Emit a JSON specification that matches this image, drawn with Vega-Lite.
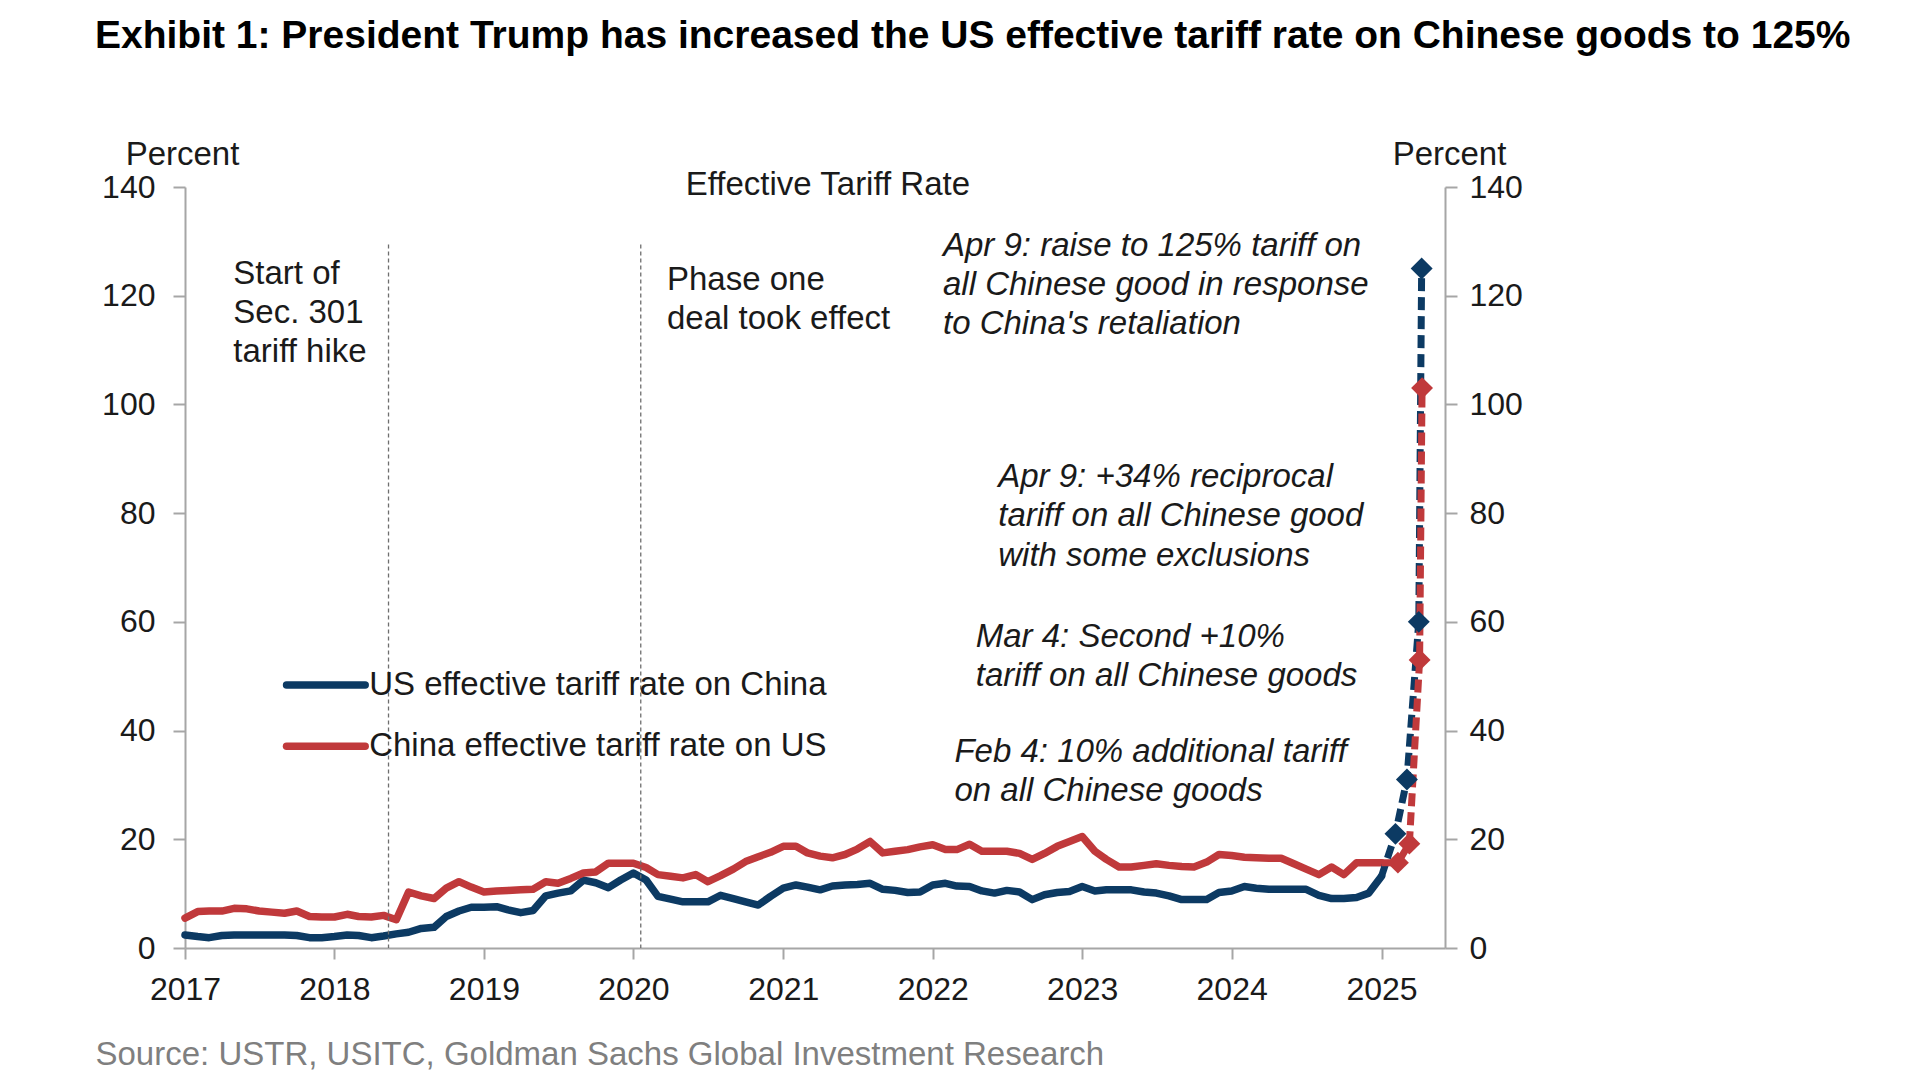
{
  "$schema": "https://vega.github.io/schema/vega-lite/v6.json",
  "width": 1260,
  "height": 761,
  "autosize": {"type": "none"},
  "padding": {"left": 185, "top": 187, "right": 475, "bottom": 132},
  "background": "white",
  "title": {
    "text": "Exhibit 1: President Trump has increased the US effective tariff rate on Chinese goods to 125%",
    "anchor": "start",
    "frame": "group",
    "dx": -90,
    "offset": 82,
    "font": "Liberation Sans",
    "fontSize": 39,
    "fontWeight": "bold",
    "color": "#000000"
  },
  "datasets": {
    "tariffs": [
      {"date": "2017-01-01", "series": "US", "value": 2.4}, {"date": "2017-02-01", "series": "US", "value": 2.1}, {"date": "2017-03-01", "series": "US", "value": 1.9}, {"date": "2017-04-01", "series": "US", "value": 2.3}, {"date": "2017-05-01", "series": "US", "value": 2.4}, {"date": "2017-06-01", "series": "US", "value": 2.4}, {"date": "2017-07-01", "series": "US", "value": 2.4}, {"date": "2017-08-01", "series": "US", "value": 2.4}, {"date": "2017-09-01", "series": "US", "value": 2.4}, {"date": "2017-10-01", "series": "US", "value": 2.3}, {"date": "2017-11-01", "series": "US", "value": 1.9}, {"date": "2017-12-01", "series": "US", "value": 1.9},
      {"date": "2018-01-01", "series": "US", "value": 2.1}, {"date": "2018-02-01", "series": "US", "value": 2.4}, {"date": "2018-03-01", "series": "US", "value": 2.3}, {"date": "2018-04-01", "series": "US", "value": 1.9}, {"date": "2018-05-01", "series": "US", "value": 2.2}, {"date": "2018-06-01", "series": "US", "value": 2.6}, {"date": "2018-07-01", "series": "US", "value": 2.9}, {"date": "2018-08-01", "series": "US", "value": 3.6}, {"date": "2018-09-01", "series": "US", "value": 3.8}, {"date": "2018-10-01", "series": "US", "value": 5.8}, {"date": "2018-11-01", "series": "US", "value": 6.8}, {"date": "2018-12-01", "series": "US", "value": 7.5},
      {"date": "2019-01-01", "series": "US", "value": 7.5}, {"date": "2019-02-01", "series": "US", "value": 7.6}, {"date": "2019-03-01", "series": "US", "value": 7.0}, {"date": "2019-04-01", "series": "US", "value": 6.5}, {"date": "2019-05-01", "series": "US", "value": 6.9}, {"date": "2019-06-01", "series": "US", "value": 9.6}, {"date": "2019-07-01", "series": "US", "value": 10.1}, {"date": "2019-08-01", "series": "US", "value": 10.5}, {"date": "2019-09-01", "series": "US", "value": 12.5}, {"date": "2019-10-01", "series": "US", "value": 12.0}, {"date": "2019-11-01", "series": "US", "value": 11.1}, {"date": "2019-12-01", "series": "US", "value": 12.5},
      {"date": "2020-01-01", "series": "US", "value": 13.8}, {"date": "2020-02-01", "series": "US", "value": 12.5}, {"date": "2020-03-01", "series": "US", "value": 9.5}, {"date": "2020-04-01", "series": "US", "value": 9.0}, {"date": "2020-05-01", "series": "US", "value": 8.5}, {"date": "2020-06-01", "series": "US", "value": 8.5}, {"date": "2020-07-01", "series": "US", "value": 8.5}, {"date": "2020-08-01", "series": "US", "value": 9.7}, {"date": "2020-09-01", "series": "US", "value": 9.1}, {"date": "2020-10-01", "series": "US", "value": 8.5}, {"date": "2020-11-01", "series": "US", "value": 7.9}, {"date": "2020-12-01", "series": "US", "value": 9.5},
      {"date": "2021-01-01", "series": "US", "value": 11.0}, {"date": "2021-02-01", "series": "US", "value": 11.6}, {"date": "2021-03-01", "series": "US", "value": 11.2}, {"date": "2021-04-01", "series": "US", "value": 10.7}, {"date": "2021-05-01", "series": "US", "value": 11.4}, {"date": "2021-06-01", "series": "US", "value": 11.6}, {"date": "2021-07-01", "series": "US", "value": 11.7}, {"date": "2021-08-01", "series": "US", "value": 11.9}, {"date": "2021-09-01", "series": "US", "value": 10.8}, {"date": "2021-10-01", "series": "US", "value": 10.6}, {"date": "2021-11-01", "series": "US", "value": 10.2}, {"date": "2021-12-01", "series": "US", "value": 10.3},
      {"date": "2022-01-01", "series": "US", "value": 11.6}, {"date": "2022-02-01", "series": "US", "value": 11.9}, {"date": "2022-03-01", "series": "US", "value": 11.4}, {"date": "2022-04-01", "series": "US", "value": 11.3}, {"date": "2022-05-01", "series": "US", "value": 10.5}, {"date": "2022-06-01", "series": "US", "value": 10.1}, {"date": "2022-07-01", "series": "US", "value": 10.6}, {"date": "2022-08-01", "series": "US", "value": 10.3}, {"date": "2022-09-01", "series": "US", "value": 8.9}, {"date": "2022-10-01", "series": "US", "value": 9.8}, {"date": "2022-11-01", "series": "US", "value": 10.2}, {"date": "2022-12-01", "series": "US", "value": 10.4},
      {"date": "2023-01-01", "series": "US", "value": 11.3}, {"date": "2023-02-01", "series": "US", "value": 10.5}, {"date": "2023-03-01", "series": "US", "value": 10.7}, {"date": "2023-04-01", "series": "US", "value": 10.7}, {"date": "2023-05-01", "series": "US", "value": 10.7}, {"date": "2023-06-01", "series": "US", "value": 10.3}, {"date": "2023-07-01", "series": "US", "value": 10.1}, {"date": "2023-08-01", "series": "US", "value": 9.6}, {"date": "2023-09-01", "series": "US", "value": 8.9}, {"date": "2023-10-01", "series": "US", "value": 8.9}, {"date": "2023-11-01", "series": "US", "value": 8.9}, {"date": "2023-12-01", "series": "US", "value": 10.2},
      {"date": "2024-01-01", "series": "US", "value": 10.5}, {"date": "2024-02-01", "series": "US", "value": 11.3}, {"date": "2024-03-01", "series": "US", "value": 11.0}, {"date": "2024-04-01", "series": "US", "value": 10.8}, {"date": "2024-05-01", "series": "US", "value": 10.8}, {"date": "2024-06-01", "series": "US", "value": 10.8}, {"date": "2024-07-01", "series": "US", "value": 10.8}, {"date": "2024-08-01", "series": "US", "value": 9.7}, {"date": "2024-09-01", "series": "US", "value": 9.1}, {"date": "2024-10-01", "series": "US", "value": 9.1}, {"date": "2024-11-01", "series": "US", "value": 9.3}, {"date": "2024-12-01", "series": "US", "value": 10.1},
      {"date": "2025-01-01", "series": "US", "value": 13.2},
      {"date": "2025-02-04", "series": "US", "value": 21.0}, {"date": "2025-03-04", "series": "US", "value": 31.0}, {"date": "2025-04-02", "series": "US", "value": 60.0}, {"date": "2025-04-09", "series": "US", "value": 125.0},
      {"date": "2017-01-01", "series": "China", "value": 5.5}, {"date": "2017-02-01", "series": "China", "value": 6.7}, {"date": "2017-03-01", "series": "China", "value": 6.8}, {"date": "2017-04-01", "series": "China", "value": 6.8}, {"date": "2017-05-01", "series": "China", "value": 7.3}, {"date": "2017-06-01", "series": "China", "value": 7.2}, {"date": "2017-07-01", "series": "China", "value": 6.8}, {"date": "2017-08-01", "series": "China", "value": 6.6}, {"date": "2017-09-01", "series": "China", "value": 6.4}, {"date": "2017-10-01", "series": "China", "value": 6.8}, {"date": "2017-11-01", "series": "China", "value": 5.8}, {"date": "2017-12-01", "series": "China", "value": 5.7},
      {"date": "2018-01-01", "series": "China", "value": 5.7}, {"date": "2018-02-01", "series": "China", "value": 6.2}, {"date": "2018-03-01", "series": "China", "value": 5.8}, {"date": "2018-04-01", "series": "China", "value": 5.7}, {"date": "2018-05-01", "series": "China", "value": 6.0}, {"date": "2018-06-01", "series": "China", "value": 5.2}, {"date": "2018-07-01", "series": "China", "value": 10.3}, {"date": "2018-08-01", "series": "China", "value": 9.6}, {"date": "2018-09-01", "series": "China", "value": 9.1}, {"date": "2018-10-01", "series": "China", "value": 11.0}, {"date": "2018-11-01", "series": "China", "value": 12.2}, {"date": "2018-12-01", "series": "China", "value": 11.2},
      {"date": "2019-01-01", "series": "China", "value": 10.3}, {"date": "2019-02-01", "series": "China", "value": 10.5}, {"date": "2019-03-01", "series": "China", "value": 10.6}, {"date": "2019-04-01", "series": "China", "value": 10.7}, {"date": "2019-05-01", "series": "China", "value": 10.8}, {"date": "2019-06-01", "series": "China", "value": 12.2}, {"date": "2019-07-01", "series": "China", "value": 11.9}, {"date": "2019-08-01", "series": "China", "value": 12.8}, {"date": "2019-09-01", "series": "China", "value": 13.8}, {"date": "2019-10-01", "series": "China", "value": 14.0}, {"date": "2019-11-01", "series": "China", "value": 15.6}, {"date": "2019-12-01", "series": "China", "value": 15.6},
      {"date": "2020-01-01", "series": "China", "value": 15.6}, {"date": "2020-02-01", "series": "China", "value": 14.8}, {"date": "2020-03-01", "series": "China", "value": 13.5}, {"date": "2020-04-01", "series": "China", "value": 13.2}, {"date": "2020-05-01", "series": "China", "value": 12.9}, {"date": "2020-06-01", "series": "China", "value": 13.5}, {"date": "2020-07-01", "series": "China", "value": 12.2}, {"date": "2020-08-01", "series": "China", "value": 13.3}, {"date": "2020-09-01", "series": "China", "value": 14.5}, {"date": "2020-10-01", "series": "China", "value": 15.9}, {"date": "2020-11-01", "series": "China", "value": 16.8}, {"date": "2020-12-01", "series": "China", "value": 17.6},
      {"date": "2021-01-01", "series": "China", "value": 18.7}, {"date": "2021-02-01", "series": "China", "value": 18.7}, {"date": "2021-03-01", "series": "China", "value": 17.5}, {"date": "2021-04-01", "series": "China", "value": 16.9}, {"date": "2021-05-01", "series": "China", "value": 16.6}, {"date": "2021-06-01", "series": "China", "value": 17.2}, {"date": "2021-07-01", "series": "China", "value": 18.2}, {"date": "2021-08-01", "series": "China", "value": 19.6}, {"date": "2021-09-01", "series": "China", "value": 17.5}, {"date": "2021-10-01", "series": "China", "value": 17.8}, {"date": "2021-11-01", "series": "China", "value": 18.1}, {"date": "2021-12-01", "series": "China", "value": 18.6},
      {"date": "2022-01-01", "series": "China", "value": 19.0}, {"date": "2022-02-01", "series": "China", "value": 18.1}, {"date": "2022-03-01", "series": "China", "value": 18.1}, {"date": "2022-04-01", "series": "China", "value": 19.1}, {"date": "2022-05-01", "series": "China", "value": 17.8}, {"date": "2022-06-01", "series": "China", "value": 17.8}, {"date": "2022-07-01", "series": "China", "value": 17.8}, {"date": "2022-08-01", "series": "China", "value": 17.4}, {"date": "2022-09-01", "series": "China", "value": 16.3}, {"date": "2022-10-01", "series": "China", "value": 17.4}, {"date": "2022-11-01", "series": "China", "value": 18.7}, {"date": "2022-12-01", "series": "China", "value": 19.6},
      {"date": "2023-01-01", "series": "China", "value": 20.5}, {"date": "2023-02-01", "series": "China", "value": 17.8}, {"date": "2023-03-01", "series": "China", "value": 16.3}, {"date": "2023-04-01", "series": "China", "value": 14.9}, {"date": "2023-05-01", "series": "China", "value": 14.9}, {"date": "2023-06-01", "series": "China", "value": 15.2}, {"date": "2023-07-01", "series": "China", "value": 15.5}, {"date": "2023-08-01", "series": "China", "value": 15.2}, {"date": "2023-09-01", "series": "China", "value": 15.0}, {"date": "2023-10-01", "series": "China", "value": 14.9}, {"date": "2023-11-01", "series": "China", "value": 15.8}, {"date": "2023-12-01", "series": "China", "value": 17.2},
      {"date": "2024-01-01", "series": "China", "value": 17.0}, {"date": "2024-02-01", "series": "China", "value": 16.7}, {"date": "2024-03-01", "series": "China", "value": 16.6}, {"date": "2024-04-01", "series": "China", "value": 16.5}, {"date": "2024-05-01", "series": "China", "value": 16.5}, {"date": "2024-06-01", "series": "China", "value": 15.5}, {"date": "2024-07-01", "series": "China", "value": 14.5}, {"date": "2024-08-01", "series": "China", "value": 13.5}, {"date": "2024-09-01", "series": "China", "value": 14.9}, {"date": "2024-10-01", "series": "China", "value": 13.5}, {"date": "2024-11-01", "series": "China", "value": 15.7}, {"date": "2024-12-01", "series": "China", "value": 15.7},
      {"date": "2025-01-01", "series": "China", "value": 15.7},
      {"date": "2025-02-10", "series": "China", "value": 15.7}, {"date": "2025-03-10", "series": "China", "value": 19.2}, {"date": "2025-04-04", "series": "China", "value": 53.0}, {"date": "2025-04-10", "series": "China", "value": 103.0}
    ],
    "events": [
      {"date": "2018-05-13", "top": 129.4},
      {"date": "2020-01-19", "top": 129.4}
    ],
    "notes": [
      {"date": "2022-01-26", "value": 129.2, "text": "Apr 9: raise to 125% tariff on"},
      {"date": "2022-01-26", "value": 122.0, "text": "all Chinese good in response"},
      {"date": "2022-01-26", "value": 114.8, "text": "to China's retaliation"},
      {"date": "2022-06-10", "value": 86.7, "text": "Apr 9: +34% reciprocal"},
      {"date": "2022-06-10", "value": 79.5, "text": "tariff on all Chinese good"},
      {"date": "2022-06-10", "value": 72.2, "text": "with some exclusions"},
      {"date": "2022-04-16", "value": 57.2, "text": "Mar 4: Second +10%"},
      {"date": "2022-04-16", "value": 50.0, "text": "tariff on all Chinese goods"},
      {"date": "2022-02-23", "value": 36.0, "text": "Feb 4: 10% additional tariff"},
      {"date": "2022-02-23", "value": 28.8, "text": "on all Chinese goods"}
    ],
    "labels": [
      {"date": "2017-04-29", "value": 124.0, "text": "Start of"},
      {"date": "2017-04-29", "value": 116.8, "text": "Sec. 301"},
      {"date": "2017-04-29", "value": 109.6, "text": "tariff hike"},
      {"date": "2020-03-23", "value": 122.9, "text": "Phase one"},
      {"date": "2020-03-23", "value": 115.7, "text": "deal took effect"}
    ],
    "heading": [
      {"date": "2021-04-20", "value": 140.4, "text": "Effective Tariff Rate"}
    ],
    "key": [
      {"series": "US", "date": "2017-09-06", "end": "2018-03-17", "value": 48.4, "text": "US effective tariff rate on China"},
      {"series": "China", "date": "2017-09-06", "end": "2018-03-17", "value": 37.1, "text": "China effective tariff rate on US"}
    ]
  },
  "layer": [
    {
      "data": {"name": "tariffs"},
      "transform": [{"filter": {"field": "date", "lte": {"year": 2025, "month": 1, "date": 1, "utc": true}}}],
      "mark": {"type": "line", "strokeWidth": 7.5, "strokeJoin": "round", "strokeCap": "round"},
      "encoding": {
        "x": {
          "field": "date",
          "type": "temporal",
          "scale": {"domain": ["2017-01-01", "2025-06-05"]},
          "axis": {
            "orient": "bottom",
            "values": ["2017-01-01", "2018-01-01", "2019-01-01", "2020-01-01", "2021-01-01", "2022-01-01", "2023-01-01", "2024-01-01", "2025-01-01"],
            "format": "%Y",
            "tickSize": 11,
            "labelPadding": 15,
            "labelFlush": false,
            "title": "Source: USTR, USITC, Goldman Sachs Global Investment Research",
            "titleAnchor": "start",
            "titleAlign": "left",
            "titleX": -90,
            "titleY": 106,
            "titleBaseline": "middle",
            "titleFontSize": 33,
            "titleFontWeight": "normal",
            "titleColor": "#7f7f7f"
          }
        },
        "y": {
          "field": "value",
          "type": "quantitative",
          "scale": {"domain": [0, 140], "nice": false},
          "axis": {
            "orient": "left",
            "values": [0, 20, 40, 60, 80, 100, 120, 140],
            "tickSize": 12,
            "labelPadding": 18,
            "title": "Percent",
            "titleAngle": 0,
            "titleX": -3,
            "titleY": -33,
            "titleAlign": "center",
            "titleBaseline": "middle",
            "titleFontSize": 33,
            "titleFontWeight": "normal"
          }
        },
        "color": {
          "field": "series",
          "type": "nominal",
          "scale": {"domain": ["US", "China"], "range": ["#0c3a63", "#c0393b"]},
          "legend": null
        }
      }
    },
    {
      "data": {"name": "events"},
      "mark": {"type": "rule", "strokeDash": [4, 3], "strokeWidth": 1.3, "color": "#6e6e6e"},
      "encoding": {
        "x": {"field": "date", "type": "temporal"},
        "y": {"field": "top", "type": "quantitative", "axis": null},
        "y2": {"datum": 0}
      }
    },
    {
      "data": {"name": "tariffs"},
      "transform": [{"filter": {"field": "date", "gte": {"year": 2025, "month": 1, "date": 1, "utc": true}}}],
      "mark": {"type": "line", "strokeWidth": 7, "strokeDash": [13, 6]},
      "encoding": {
        "x": {"field": "date", "type": "temporal"},
        "y": {
          "field": "value",
          "type": "quantitative",
          "axis": {
            "orient": "right",
            "values": [0, 20, 40, 60, 80, 100, 120, 140],
            "tickSize": 12,
            "labelPadding": 12,
            "title": "Percent",
            "titleAngle": 0,
            "titleX": 4,
            "titleY": -33,
            "titleAlign": "center",
            "titleBaseline": "middle",
            "titleFontSize": 33,
            "titleFontWeight": "normal"
          }
        },
        "color": {"field": "series", "type": "nominal", "legend": null}
      }
    },
    {
      "data": {"name": "tariffs"},
      "transform": [{"filter": {"field": "date", "gt": {"year": 2025, "month": 1, "date": 1, "utc": true}}}],
      "mark": {"type": "point", "shape": "diamond", "filled": true, "size": 480, "opacity": 1},
      "encoding": {
        "x": {"field": "date", "type": "temporal"},
        "y": {"field": "value", "type": "quantitative", "axis": null},
        "color": {"field": "series", "type": "nominal", "legend": null}
      }
    },
    {
      "data": {"name": "notes"},
      "mark": {"type": "text", "align": "left", "baseline": "middle", "fontStyle": "italic"},
      "encoding": {
        "x": {"field": "date", "type": "temporal"},
        "y": {"field": "value", "type": "quantitative", "axis": null},
        "text": {"field": "text", "type": "nominal"}
      }
    },
    {
      "data": {"name": "labels"},
      "mark": {"type": "text", "align": "left", "baseline": "middle"},
      "encoding": {
        "x": {"field": "date", "type": "temporal"},
        "y": {"field": "value", "type": "quantitative", "axis": null},
        "text": {"field": "text", "type": "nominal"}
      }
    },
    {
      "data": {"name": "heading"},
      "mark": {"type": "text", "align": "center", "baseline": "middle"},
      "encoding": {
        "x": {"field": "date", "type": "temporal"},
        "y": {"field": "value", "type": "quantitative", "axis": null},
        "text": {"field": "text", "type": "nominal"}
      }
    },
    {
      "data": {"name": "key"},
      "mark": {"type": "rule", "strokeWidth": 7.5, "strokeCap": "round"},
      "encoding": {
        "x": {"field": "date", "type": "temporal"},
        "x2": {"field": "end"},
        "y": {"field": "value", "type": "quantitative", "axis": null},
        "color": {"field": "series", "type": "nominal", "legend": null}
      }
    },
    {
      "data": {"name": "key"},
      "mark": {"type": "text", "align": "left", "baseline": "middle", "dx": 4},
      "encoding": {
        "x": {"field": "end", "type": "temporal"},
        "y": {"field": "value", "type": "quantitative", "axis": null},
        "text": {"field": "text", "type": "nominal"}
      }
    }
  ],
  "resolve": {"axis": {"y": "independent"}},
  "config": {
    "view": {"stroke": null},
    "axis": {
      "grid": false,
      "domainColor": "#a6a6a6",
      "domainWidth": 2,
      "tickColor": "#a6a6a6",
      "tickWidth": 2,
      "labelFont": "Liberation Sans",
      "labelFontSize": 32,
      "labelColor": "#1a1a1a",
      "titleFont": "Liberation Sans",
      "titleColor": "#1a1a1a"
    },
    "text": {"font": "Liberation Sans", "fontSize": 33, "color": "#1a1a1a"}
  }
}
